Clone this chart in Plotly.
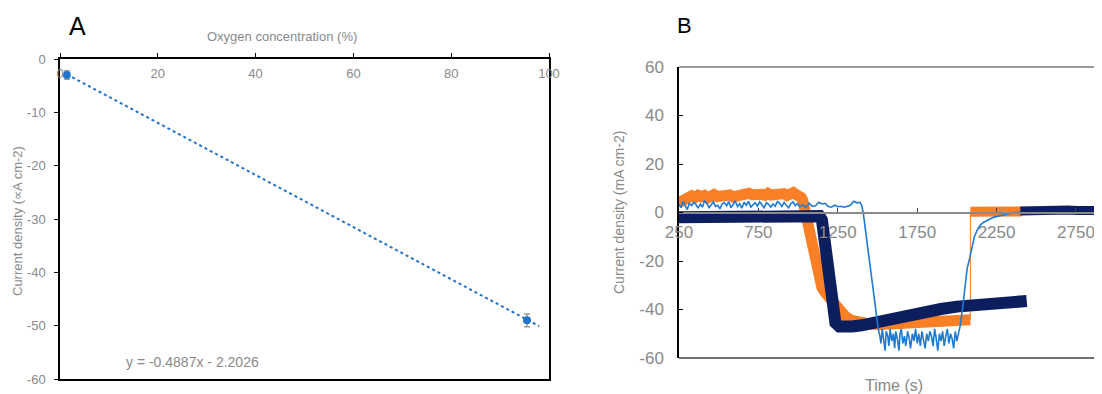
import plotly.graph_objects as go

# ---------------- Panel A data ----------------
oxygen_pct = [1.4, 95.5]
current_uA = [-3.0, -49.0]
current_err = [0.8, 1.2]
trend_slope = -0.4887
trend_intercept = -2.2026
trend_x_end = 98
equation_text = "y = -0.4887x - 2.2026"
a_xticks = [0, 20, 40, 60, 80, 100]
a_yticks = [0, -10, -20, -30, -40, -50, -60]
a_yticktext = ["0", "-10", "-20", "-30", "-40", "-50", "-60"]

# ---------------- Panel B data ----------------
orange_t1 = [250, 270, 290, 310, 330, 350, 370, 390, 410, 430, 450, 470, 490, 510, 530, 550,
             570, 590, 610, 630, 650, 670, 690, 710, 730, 750, 770, 790, 810, 830, 850, 870,
             890, 910, 930, 950, 970, 990, 1005, 1020, 1030, 1050, 1070, 1090,
             1110, 1130, 1150, 1170, 1190, 1210, 1230, 1250, 1270, 1300, 1340, 1400, 1450,
             1520, 1600, 1700, 1800, 1900, 2000, 2085]
orange_v1 = [4.0, 4.8, 5.6, 6.3, 6.9, 6.2, 7.1, 6.5, 7.0, 6.0, 6.8, 7.4, 6.6, 6.9, 6.1, 6.7,
             7.2, 6.4, 6.8, 6.2, 6.6, 7.4, 7.9, 7.3, 7.6, 6.8, 7.5, 7.1, 7.9, 7.2, 7.6, 6.9,
             7.4, 7.8, 7.0, 7.5, 8.2, 7.3, 7.0, 6.2, 5.0, -1, -8, -16,
             -23, -28, -31, -33, -34.5, -35.5, -37, -39.5, -41.5, -43, -44.5, -45.5, -46,
             -46.2, -46, -45.8, -45.4, -45, -44.6, -44.2]
orange_t2 = [2085, 2130, 2180, 2230, 2280, 2330, 2380, 2410]
orange_v2 = [0.3, 0.4, 0.3, 0.5, 0.4, 0.3, 0.5, 0.4]

navy_t1 = [250, 350, 450, 550, 650, 750, 850, 950, 1050, 1120, 1135, 1150, 1160, 1170, 1180,
           1190, 1200, 1215, 1235, 1260, 1300, 1340, 1400, 1500, 1600, 1700, 1800, 1900,
           2000, 2100, 2200, 2300, 2400, 2440]
navy_v1 = [-2.0, -2.0, -1.9, -1.8, -1.7, -1.6, -1.5, -1.4, -1.3, -1.2, -1.5, -3, -8, -15, -23,
           -31, -37, -42, -45.5, -47, -47.3, -47, -46.5, -45, -43.2, -41.8, -40.8, -39.8,
           -38.8, -38, -37.5, -37, -36.6, -36.5]
navy_t2 = [2400, 2460, 2520, 2580, 2640, 2700, 2760, 2820, 2880, 2940]
navy_v2 = [0.6, 0.8, 0.7, 0.9, 0.8, 1.0, 0.8, 0.9, 1.0, 0.9]

blue_t = [250, 262, 275, 290, 302, 315, 330, 343, 357, 370, 385, 398, 410, 425, 440, 452,
          466, 480, 494, 508, 521, 535, 550, 563, 577, 590, 604, 618, 632, 646, 660, 674,
          688, 702, 716, 730, 744, 758, 772, 786, 800, 814, 828, 842, 856, 870, 884, 898,
          912, 926, 940, 954, 968, 982, 996, 1010, 1030, 1050, 1070, 1090, 1110, 1130,
          1150, 1170, 1190, 1210, 1230, 1250, 1270, 1290, 1310, 1330, 1350, 1370, 1390,
          1400, 1410, 1430, 1450, 1470, 1490, 1505,
          1515, 1522, 1530, 1540, 1548, 1555, 1565, 1572, 1580, 1590, 1600, 1608, 1615,
          1625, 1635, 1642, 1650, 1660, 1670, 1678, 1690, 1700, 1708, 1720, 1730, 1740,
          1750, 1760, 1770, 1780, 1790, 1800, 1810, 1820, 1830, 1840, 1850, 1860, 1870,
          1880, 1890, 1900, 1910, 1920, 1930, 1940, 1950, 1960, 1970, 1980, 1990, 2000,
          2010, 2020,
          2035, 2050, 2065, 2080, 2095, 2110, 2130, 2150, 2170, 2200, 2230, 2260, 2290,
          2330, 2370, 2410]
blue_v = [3.5, 2.0, 4.6, 3.0, 1.2, 3.8, 2.9, 4.2, 3.3, 1.8, 3.5, 2.2, 4.8, 3.9, 2.0, 3.1,
          4.4, 2.5, 3.0, 1.5, 3.5, 4.1, 2.8, 4.5, 2.0, 3.2, 4.8, 2.5, 3.6, 1.8, 4.2, 3.0,
          4.6, 2.2, 3.3, 4.0, 2.6, 4.4, 3.2, 2.0, 4.0, 3.4, 2.2, 3.5, 2.6, 4.5, 3.8, 2.5,
          4.2, 3.0, 1.9, 3.6, 4.4, 2.8, 3.7, 2.4, 3.2, 2.0, 3.8, 2.5, 2.8, 4.2,
          3.5, 3.8, 2.5, 2.2, 3.0, 2.4, 2.6, 2.2, 2.5, 3.0, 4.6, 4.0, 4.2,
          3.0, 0.0, -10, -21, -32, -42, -48,
          -51, -54, -48, -52, -57, -49, -51, -55, -48, -53, -50, -56, -49,
          -52, -57, -50, -48, -54, -51, -55, -49, -52, -56, -50, -53, -48,
          -54, -50, -55, -49, -52, -56, -50, -53, -49, -51, -55, -48, -52,
          -57, -50, -53, -49, -55, -51, -48, -54, -50, -52, -56, -49, -53,
          -50, -47,
          -40, -30, -23, -19, -14, -10, -7, -5, -4, -3, -2, -1.5, -1,
          -0.5, 0.0, 0.3]

time_ticks = [250, 750, 1250, 1750, 2250, 2750]
b_yticks = [-60, -40, -20, 0, 20, 40, 60]
b_yticktext = ["-60", "-40", "-20", "0", "20", "40", "60"]

# ---------------- styling ----------------
FONT = "Liberation Sans, Arial, sans-serif"
GREY = "#898989"
ORANGE = "#FB7F27"
NAVY = "#0C1E5E"
LBLUE = "#1E7BD3"
ABLUE = "#2273C9"
OFF = 8                      # page body margin
W, H = 1102 - OFF, 394 - OFF

def px_x(p):
    return (p - OFF) / W

def px_y(p):
    return 1 - (p - OFF) / H

def note(text, x, y, size, color=GREY, angle=0):
    return dict(text=text, x=px_x(x), y=px_y(y), xref="paper", yref="paper",
                xanchor="center", yanchor="middle", showarrow=False, textangle=angle,
                font=dict(size=size, color=color))

fig = go.Figure()

# Panel A
trend_x = [oxygen_pct[0], trend_x_end]
trend_y = [trend_slope * x + trend_intercept for x in trend_x]
fig.add_trace(go.Scatter(x=trend_x, y=trend_y, mode="lines",
                         line=dict(color=ABLUE, width=2, dash="dot"),
                         xaxis="x", yaxis="y", showlegend=False))
fig.add_trace(go.Scatter(x=oxygen_pct, y=current_uA, mode="markers",
                         marker=dict(color=ABLUE, size=8),
                         error_y=dict(type="data", array=current_err, color="#9a9a9a",
                                      thickness=1.5, width=3),
                         xaxis="x", yaxis="y", showlegend=False))

# Panel B
fig.add_trace(go.Scatter(x=orange_t1, y=orange_v1, mode="lines",
                         line=dict(color=ORANGE, width=11), xaxis="x2", yaxis="y2",
                         showlegend=False))
fig.add_trace(go.Scatter(x=[orange_t1[-1], orange_t2[0]], y=[orange_v1[-1], orange_v2[0]],
                         mode="lines", line=dict(color=ORANGE, width=1),
                         xaxis="x2", yaxis="y2", showlegend=False))
fig.add_trace(go.Scatter(x=orange_t2, y=orange_v2, mode="lines",
                         line=dict(color=ORANGE, width=10), xaxis="x2", yaxis="y2",
                         showlegend=False))
fig.add_trace(go.Scatter(x=navy_t1, y=navy_v1, mode="lines",
                         line=dict(color=NAVY, width=12), xaxis="x2", yaxis="y2",
                         showlegend=False))
fig.add_trace(go.Scatter(x=blue_t, y=blue_v, mode="lines",
                         line=dict(color=LBLUE, width=1.6), xaxis="x2", yaxis="y2",
                         showlegend=False))
fig.add_trace(go.Scatter(x=navy_t2, y=navy_v2, mode="lines",
                         line=dict(color=NAVY, width=9), xaxis="x2", yaxis="y2",
                         showlegend=False))

fig.update_layout(
    width=W, height=H, autosize=False,
    margin=dict(l=0, r=0, t=0, b=0, autoexpand=False),
    paper_bgcolor="white", plot_bgcolor="white",
    font=dict(family=FONT, color=GREY),
    xaxis=dict(domain=[px_x(60), px_x(549)], range=[0, 100], side="top", anchor="y",
               tickvals=a_xticks, ticks="outside", ticklen=4,
               tickcolor="black", showline=True, linecolor="black", linewidth=1.5,
               mirror=True, ticklabelposition="inside", ticklabeloverflow="allow",
               ticklabelstandoff=10, tickfont=dict(size=13, color=GREY),
               showgrid=False, zeroline=False),
    yaxis=dict(domain=[px_y(379), px_y(59)], range=[-60, 0], anchor="x",
               tickvals=a_yticks, ticktext=a_yticktext, ticks="outside", ticklen=4,
               tickcolor="black", showline=True, linecolor="black", linewidth=1.5,
               mirror=True, tickfont=dict(size=13, color=GREY), ticklabelstandoff=6,
               showgrid=False, zeroline=False),
    xaxis2=dict(domain=[px_x(679), 1.0], range=[250, 2914], anchor="free",
                position=px_y(212.5), tickvals=time_ticks, ticks="inside", ticklen=4,
                tickcolor="#404040", showline=True, linecolor="#8a8a8a", linewidth=1.5,
                tickfont=dict(size=17, color=GREY), ticklabelstandoff=4,
                showgrid=False, zeroline=False),
    yaxis2=dict(domain=[px_y(358), px_y(67)], range=[-60, 60], anchor="x2",
                tickvals=b_yticks, ticktext=b_yticktext, ticks="inside", ticklen=4,
                tickcolor="black", showline=True, linecolor="black", linewidth=1.5,
                tickfont=dict(size=17, color=GREY), ticklabelstandoff=10,
                showgrid=False, zeroline=False),
    shapes=[
        dict(type="line", xref="x2 domain", yref="y2 domain", x0=0, x1=1, y0=1, y1=1,
             line=dict(color="#7a7a7a", width=1.5)),
        dict(type="line", xref="x2 domain", yref="y2 domain", x0=0, x1=1, y0=0, y1=0,
             line=dict(color="#404040", width=1.5)),
    ],
    annotations=[
        note("A", 77, 26, 25, "black"),
        note("B", 684, 26, 22, "black"),
        note("Oxygen concentration (%)", 282, 36, 13),
        note("Current density (\u221dA cm-2)", 18, 221, 13, angle=-90),
        note(equation_text, 192, 362, 14),
        note("Current density (mA cm-2)", 619, 213, 14, angle=-90),
        note("Time (s)", 894, 385, 16),
    ],
)

fig.write_html("out.html")
